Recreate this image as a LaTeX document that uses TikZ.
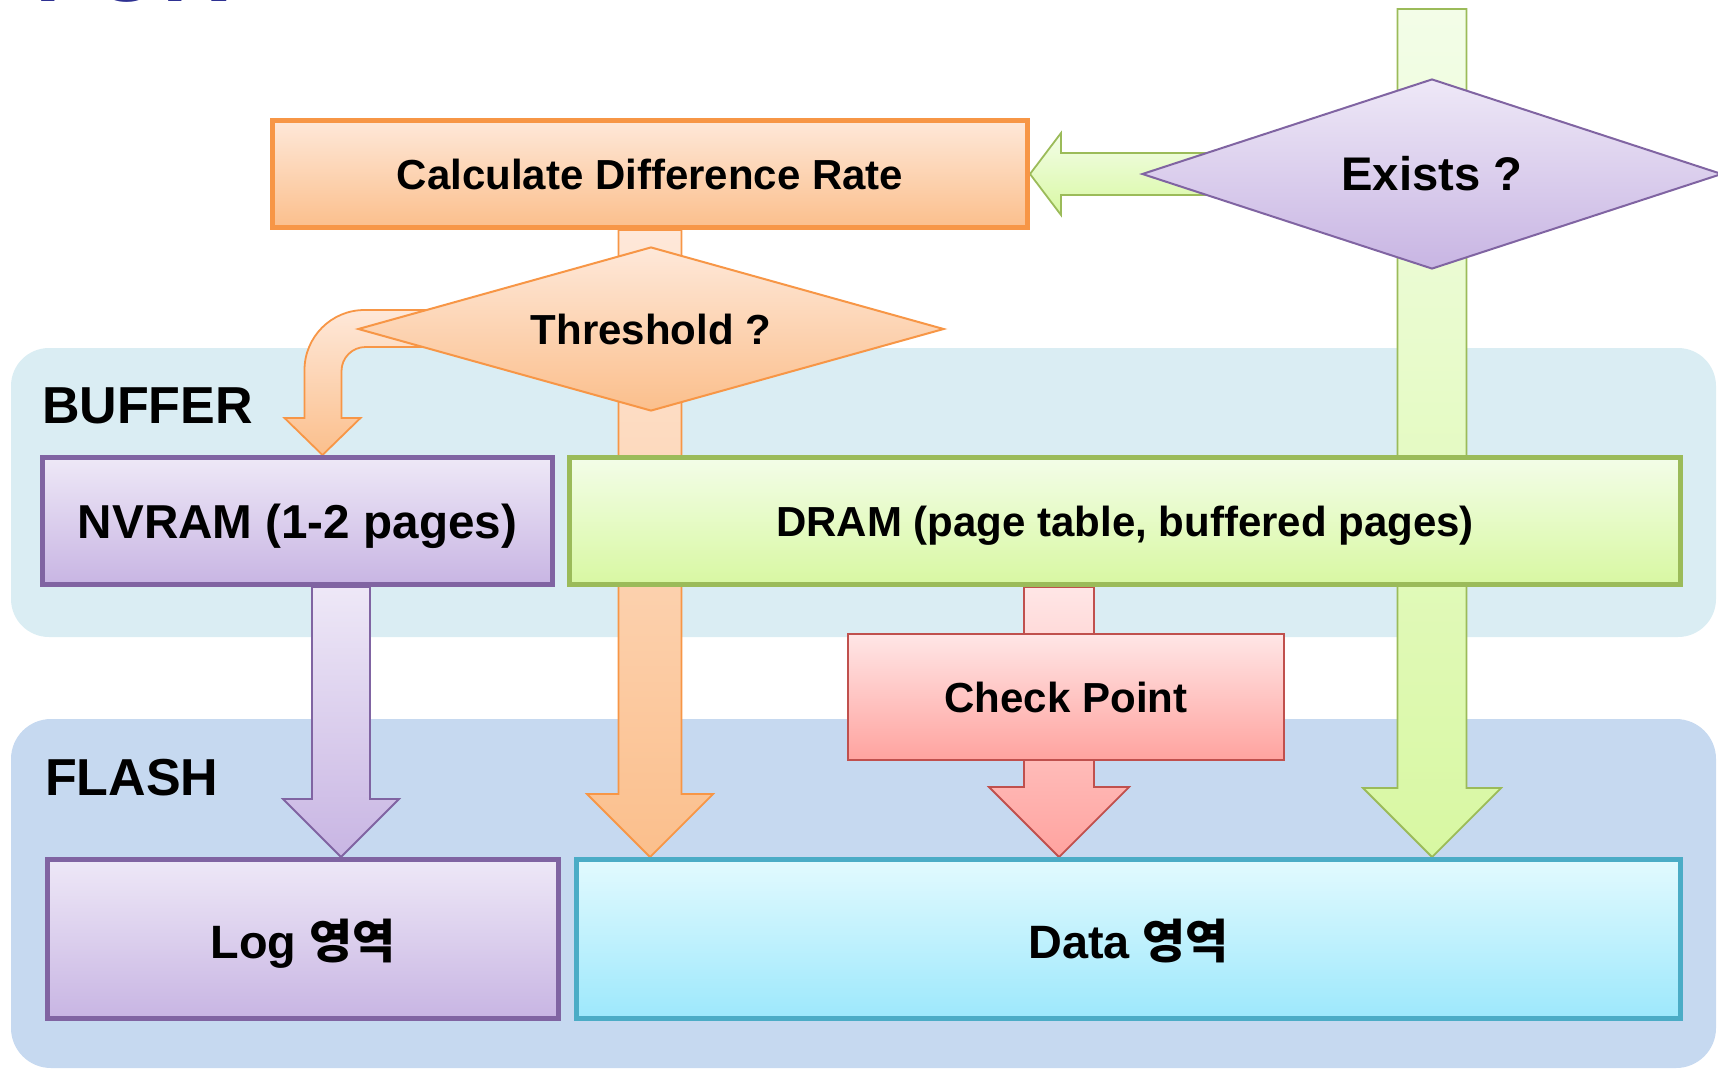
\documentclass[tikz,border=0pt]{standalone}
\usepackage{fontspec}
\setmainfont{Liberation Sans}
\newfontfamily\kofont{Noto Sans CJK KR}
\usetikzlibrary{calc, shapes.geometric}

\definecolor{orangeline}{HTML}{F79646}
\definecolor{orangetop}{HTML}{FEE8D9}
\definecolor{orangebot}{HTML}{FBBF8C}
\definecolor{purpleline}{HTML}{8064A2}
\definecolor{purpletop}{HTML}{EEE8F7}
\definecolor{purplebot}{HTML}{C8B5E3}
\definecolor{greenline}{HTML}{9BBB59}
\definecolor{greentop}{HTML}{F3FDE8}
\definecolor{greenbot}{HTML}{D8F8A2}
\definecolor{redline}{HTML}{C0504D}
\definecolor{redtop}{HTML}{FFE6E6}
\definecolor{redbot}{HTML}{FFA39F}
\definecolor{blueline}{HTML}{4BACC6}
\definecolor{bluetop}{HTML}{E2FAFE}
\definecolor{bluebot}{HTML}{9DE8FC}
\definecolor{bufferbg}{HTML}{DAEDF3}
\definecolor{flashbg}{HTML}{C6D9F0}
\definecolor{titleblue}{HTML}{2E3192}

\pgfdeclarelayer{bg}
\pgfdeclarelayer{flow}
\pgfsetlayers{bg,flow,main}

% fat arrow pointing down: style, top, tip, shaft width
\newcommand{\fatdown}[4]{%
  \draw[#1] let \p1=(#2), \p2=(#3) in
    (\x2-#4/2,\y1) -- (\x2-#4/2,\y2+#4) -- (\x2-#4,\y2+#4) -- (\p2)
    -- (\x2+#4,\y2+#4) -- (\x2+#4/2,\y2+#4) -- (\x2+#4/2,\y1) -- cycle;}

\begin{document}
\begin{tikzpicture}[x=0.5pt, y=-0.5pt,
    box/.style={draw, rectangle, inner sep=0pt, text depth=0pt, line width=2.5pt, font=\bfseries\fontsize{21}{25}\selectfont},
    decision/.style={draw, diamond, inner sep=0pt, line width=1pt, font=\bfseries\fontsize{21}{25}\selectfont},
    region/.style={anchor=base west, font=\bfseries\fontsize{26}{30}\selectfont},
    orangefill/.style={top color=orangetop, bottom color=orangebot},
    purplefill/.style={top color=purpletop, bottom color=purplebot},
    greenfill/.style={top color=greentop, bottom color=greenbot},
    redfill/.style={top color=redtop, bottom color=redbot},
    bluefill/.style={top color=bluetop, bottom color=bluebot},
    orangearrow/.style={orangefill, draw=orangeline, line width=0.9pt},
    purplearrow/.style={purplefill, draw=purpleline, line width=0.9pt},
    greenarrow/.style={greenfill, draw=greenline, line width=0.9pt},
    redarrow/.style={redfill, draw=redline, line width=0.9pt}]
\useasboundingbox (0,0) rectangle (1718,1071);

% regions
\begin{pgfonlayer}{bg}
  \fill[bufferbg, rounded corners=19pt] (11,348) rectangle (1716,637);
  \fill[flashbg, rounded corners=20pt] (11,719) rectangle (1716,1068);
\end{pgfonlayer}

\node[anchor=base west, text=titleblue, font=\bfseries\fontsize{46}{50}\selectfont] (title) at (28,1) {FOR};
\node[region] (bufferlbl) at (35,423) {BUFFER};
\node[region] (flashlbl) at (38,795) {FLASH};

% boxes
\node[box, orangefill, draw=orangeline, minimum width=377.5pt, minimum height=53.5pt] (calc) at (650,174) {Calculate Difference Rate};
\node[decision, orangefill, draw=orangeline, aspect=3.57, minimum width=293pt, minimum height=82pt] (threshold) at (651,329) {Threshold ?};
\node[decision, purplefill, draw=purpleline, aspect=3.05, minimum width=290pt, minimum height=95pt, font=\bfseries\fontsize{23.6}{28}\selectfont] (exists) at (1432,174) {Exists ?};
\node[box, purplefill, draw=purpleline, minimum width=255pt, minimum height=63.5pt, font=\bfseries\fontsize{23.8}{28}\selectfont] (nvram) at (297.5,521) {NVRAM (1-2 pages)};
\node[box, greenfill, draw=greenline, minimum width=555.5pt, minimum height=63.5pt] (dram) at (1125,521) {DRAM (page table, buffered pages)};
\node[box, redfill, draw=redline, line width=1.2pt, minimum width=217.8pt, minimum height=62.8pt] (check) at (1066,697) {Check Point};
\node[box, purplefill, draw=purpleline, minimum width=255.5pt, minimum height=79.5pt, font=\bfseries\fontsize{23.4}{28}\selectfont] (log) at (303,939) {Log {\kofont 영역}};
\node[box, bluefill, draw=blueline, minimum width=552pt, minimum height=79.5pt, font=\bfseries\fontsize{23.4}{28}\selectfont] (data) at (1128.5,939) {Data {\kofont 영역}};

\coordinate (gtop) at ($(exists.north)+(0,-69)$);
\coordinate (nvtip) at ($(nvram.north)+(25,0)$);
\coordinate (login) at ($(log.north)+(38,0)$);
\coordinate (cpx) at ($(check.south)+(-7,0)$);

% flow arrows
\begin{pgfonlayer}{flow}
  \fatdown{greenarrow}{gtop}{exists.north |- data.north}{34.5pt}
  \draw[greenarrow] let \p1=(exists.center), \p2=(calc.east) in
    (\x1,\y2+10.5pt) -- (\x2+15.5pt,\y2+10.5pt) -- (\x2+15.5pt,\y2+20.5pt) -- (\p2)
    -- (\x2+15.5pt,\y2-20.5pt) -- (\x2+15.5pt,\y2-10.5pt) -- (\x1,\y2-10.5pt) -- cycle;
  \fatdown{orangearrow}{calc.south}{calc.south |- data.north}{31.5pt}
  \draw[orangearrow] let \p1=(threshold.west), \p2=(nvtip) in
    (\x1+40pt,\y1+9.5pt) [rounded corners=30pt] -- (\x2-9pt,\y1+9.5pt)
    [sharp corners] -- (\x2-9pt,\y2+18.5pt) -- (\x2-19pt,\y2+18.5pt) -- (\p2) -- (\x2+19pt,\y2+18.5pt)
    -- (\x2+9.5pt,\y2+18.5pt) [rounded corners=12pt] -- (\x2+9.5pt,\y1-9pt)
    [sharp corners] -- (\x1+40pt,\y1-9pt) -- cycle;
  \fatdown{purplearrow}{login |- nvram.south}{login}{29pt}
  \fatdown{redarrow}{cpx |- dram.south}{cpx |- data.north}{35pt}
\end{pgfonlayer}
\end{tikzpicture}
\end{document}
